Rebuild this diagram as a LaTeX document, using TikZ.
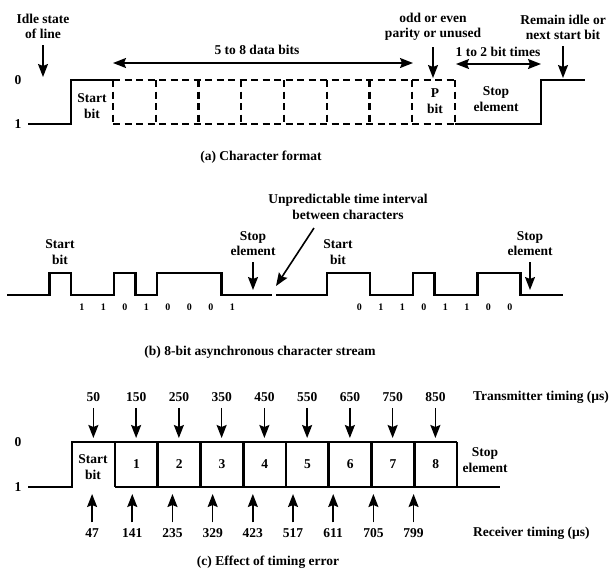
\documentclass[tikz,border=0pt]{standalone}
\usepackage{fontspec}
\setmainfont{Liberation Serif}
\usetikzlibrary{arrows.meta}

\begin{document}
\begin{tikzpicture}[
    x=1pt,
    y=-1pt,
    every node/.style={font=\bfseries\fontsize{13.5}{15.5}\selectfont,align=center,inner sep=1pt},
    small/.style={font=\bfseries\fontsize{10}{12}\selectfont},
    signal/.style={line width=2.6pt,line join=miter},
    dashsig/.style={line width=2.4pt,dash pattern=on 7pt off 4.5pt},
    pointer/.style={-{Stealth[length=13pt,width=10pt,inset=2pt]},line width=1.6pt,shorten <=5pt},
    twoway/.style={{Stealth[length=13pt,width=10pt,inset=2pt]}-{Stealth[length=13pt,width=10pt,inset=2pt]},line width=1.6pt}
]

\useasboundingbox (0,0) rectangle (615,571);

% (a) Character format.
\node (zeroA) at (18,80) {0};
\node (oneA) at (18,124) {1};

\draw[signal] (28,124) -- (71,124) -- (71,80) -- (113,80);
\draw[dashsig] (113,80) -- (455,80);
\draw[dashsig] (113,124) -- (455,124);
\foreach \k in {0,...,8} {
    \draw[dashsig] ({113+42.75*\k},80) -- ({113+42.75*\k},124);
}
\draw[signal] (455,124) -- (541,124) -- (541,80) -- (585,80);

\node (startA) at (92,106) {Start\\bit};
\node (pbitA) at (435,101) {P\\bit};
\node (stopA) at (496,99) {Stop\\element};

\node[anchor=south] (idleTxt) at (43,40) {Idle state\\of line};
\coordinate (idleTip) at (43,77);
\draw[pointer] (idleTxt) -- (idleTip);

\node (dataTxt) at (257,50) {5 to 8 data bits};
\coordinate (dataL) at (113,63);
\coordinate (dataR) at (413,63);
\draw[twoway] (dataL) -- (dataR);

\node[anchor=south] (parityTxt) at (433,42) {odd or even\\parity or unused};
\coordinate (parityTip) at (433,78);
\draw[pointer] (parityTxt) -- (parityTip);

\node (timesTxt) at (498,52) {1 to 2 bit times};
\coordinate (timesL) at (456,64);
\coordinate (timesR) at (541,64);
\draw[twoway] (timesL) -- (timesR);

\node[anchor=south] (remainTxt) at (563,41) {Remain idle or\\next start bit};
\coordinate (remainTip) at (563,78);
\draw[pointer] (remainTxt) -- (remainTip);

\node (capA) at (261,157) {(a) Character format};

% (b) 8-bit asynchronous character stream.
\draw[signal] (7,295) -- (49.5,295) -- (49.5,273) -- (71,273) -- (71,295)
    -- (114,295) -- (114,273) -- (135.5,273) -- (135.5,295) -- (157,295)
    -- (157,273) -- (221.5,273) -- (221.5,295) -- (272,295);
\draw[signal] (276,295) -- (327,295) -- (327,273) -- (370,273) -- (370,295)
    -- (413,295) -- (413,273) -- (434.5,273) -- (434.5,295) -- (477.5,295)
    -- (477.5,273) -- (520.5,273) -- (520.5,295) -- (563,295);

\foreach \b [count=\i] in {1,1,0,1,0,0,0,1} {
    \node[small] (bitA\i) at ({71+21.5*(\i-0.5)},307) {\b};
}
\foreach \b [count=\i] in {0,1,1,0,1,1,0,0} {
    \node[small] (bitB\i) at ({348.5+21.5*(\i-0.5)},307) {\b};
}

\node (startB1) at (60,252) {Start\\bit};
\node (startB2) at (338,252) {Start\\bit};

\node[anchor=south] (stopB1) at (253,257) {Stop\\element};
\coordinate (stopTip1) at (253,290);
\draw[pointer] (stopB1) -- (stopTip1);
\node[anchor=south] (stopB2) at (530,257) {Stop\\element};
\coordinate (stopTip2) at (530,290);
\draw[pointer] (stopB2) -- (stopTip2);

\node (gapTxt) at (348,207) {Unpredictable time interval\\between characters};
\coordinate (gapFrom) at (314,228);
\coordinate (gapTip) at (276,286);
\draw[pointer,shorten <=0pt] (gapFrom) -- (gapTip);

\node (capB) at (260,352) {(b) 8-bit asynchronous character stream};

% (c) Effect of timing error.
\node (zeroC) at (18,442) {0};
\node (oneC) at (18,487) {1};

\draw[signal] (28,487) -- (72,487) -- (72,442) -- (457,442);
\draw[signal] (115,487) -- (500,487);
\foreach \k in {0,...,8} {
    \draw[signal] ({115+42.75*\k},442) -- ({115+42.75*\k},487);
}
\foreach \i in {1,...,8} {
    \node (cell\i) at ({136.4+42.75*(\i-1)},464) {\i};
}
\node (startC) at (93,467) {Start\\bit};
\node (stopC) at (485,460) {Stop\\element};

% Transmitter and receiver sampling instants.
\foreach \t [count=\i] in {50,150,...,850} {
    \node (tx\i) at ({72+0.4275*\t},397) {\t};
    \coordinate (txTip\i) at ({72+0.4275*\t},438);
    \draw[pointer] (tx\i) -- (txTip\i);
}
\foreach \t [count=\i] in {47,141,...,799} {
    \node (rx\i) at ({72+0.4275*\t},533) {\t};
    \coordinate (rxTip\i) at ({72+0.4275*\t},494);
    \draw[pointer] (rx\i) -- (rxTip\i);
}
\node[anchor=west] (txTiming) at (472,397) {Transmitter timing (µs)};
\node[anchor=west] (rxTiming) at (472,533) {Receiver timing (µs)};

\node (capC) at (268,562) {(c) Effect of timing error};

\end{tikzpicture}
\end{document}
